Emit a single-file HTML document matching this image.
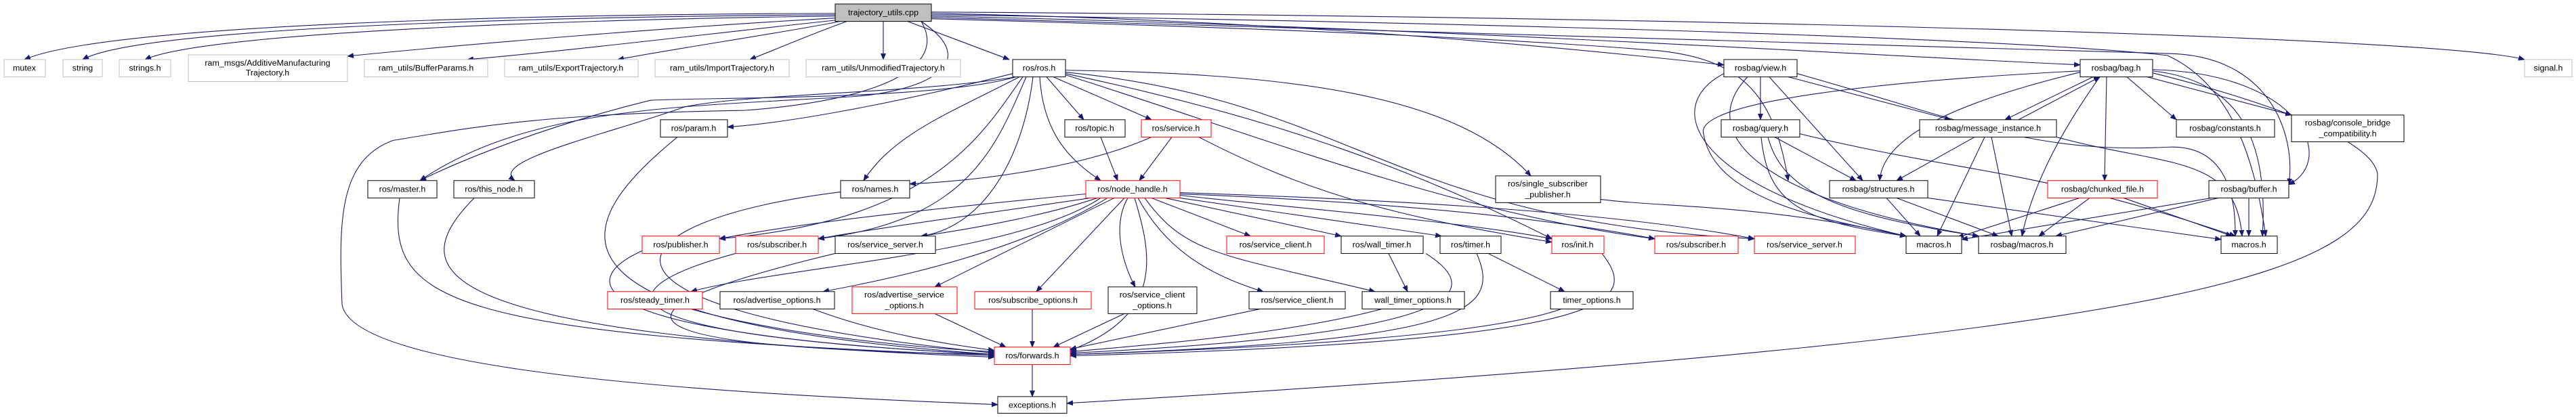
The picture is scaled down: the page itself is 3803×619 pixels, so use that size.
<!DOCTYPE html>
<html><head><meta charset="utf-8"><style>
html,body{margin:0;padding:0;background:#fff;}
svg{display:block;}
text{font-family:"Liberation Sans",sans-serif;font-size:12.5px;fill:#000;text-anchor:middle;}
.e{fill:none;stroke:#191970;stroke-width:1.1;marker-end:url(#a);}
.g{fill:#fff;stroke:#bfbfbf;stroke-width:1;}
.b{fill:#fff;stroke:#000;stroke-width:1;}
.r{fill:#fff;stroke:#ff0000;stroke-width:1;}
</style></head><body>
<svg width="3803" height="619" viewBox="0 0 3803 619" xmlns="http://www.w3.org/2000/svg">
<defs><marker id="a" markerWidth="10" markerHeight="8" refX="9" refY="4" orient="auto" markerUnits="userSpaceOnUse"><path d="M0,0 L10,4 L0,8 z" fill="#191970"/></marker></defs>
<g transform="matrix(1 0 0 0.988 0 0)">

<path class="e" d="M1233,20 C700,22 150,40 36,89"/>
<path class="e" d="M1233,22 C700,26 200,45 122,89"/>
<path class="e" d="M1233,24 C800,30 300,50 214,89"/>
<path class="e" d="M1233,27 C1000,40 700,65 513,84"/>
<path class="e" d="M1236,30 C1050,50 850,75 690,89"/>
<path class="e" d="M1240,32 C1150,50 1000,72 912,89"/>
<path class="e" d="M1250,32 C1200,50 1150,72 1107,89"/>
<path class="e" d="M1304,32 L1304,89"/>
<path class="e" d="M1340,32 L1490,89"/>
<path class="e" d="M1375,20 C1900,30 2300,70 2545,97"/>
<path class="e" d="M1375,24 C2100,40 2700,80 3071,97"/>
<path class="e" d="M1375,18 C2500,25 3600,55 3727,89"/>
<path class="e" d="M1360,32 C1460,100 1350,140 1250,145 C1000,160 780,160 620,270"/>
<path class="e" d="M1375,28 C1800,40 2200,55 2450,76 C2580,90 2620,150 2640,270"/>
<path class="e" d="M1375,26 C2100,50 2700,70 3200,80 C3350,82 3390,200 3379,276"/>
<path class="e" d="M1375,22 C2300,35 3000,60 3200,83 C3300,130 3330,250 3345,353"/>
<path class="e" d="M1360,32 C1400,100 1300,150 1100,165 C800,170 700,190 580,210 C500,240 500,330 505,455 C520,560 1100,590 1473,605"/>

<path class="e" d="M1495,110 C1300,160 1150,185 1074,190"/>
<path class="e" d="M1500,115 C1350,140 1100,140 1010,160 C900,200 720,240 760,270"/>
<path class="e" d="M1500,115 C1380,150 1050,145 960,150 C800,190 680,240 620,270"/>
<path class="e" d="M1505,115 C1400,170 1320,200 1275,270"/>
<path class="e" d="M1545,115 L1600,179"/>
<path class="e" d="M1555,115 L1700,179"/>
<path class="e" d="M1535,115 C1540,200 1580,240 1625,270"/>
<path class="e" d="M1510,115 C1450,200 1380,330 1062,357"/>
<path class="e" d="M1515,115 C1470,220 1430,330 1208,357"/>
<path class="e" d="M1525,115 C1510,240 1450,340 1360,353"/>
<path class="e" d="M1573,105 C1900,110 2150,140 2260,263"/>
<path class="e" d="M1573,110 C1900,180 2100,260 2291,357"/>
<path class="e" d="M1573,112 C1850,200 2150,320 2443,357"/>
<path class="e" d="M1573,108 C2000,150 2050,330 2590,357"/>

<path class="e" d="M1625,205 L1650,270"/>
<path class="e" d="M1730,205 L1682,270"/>
<path class="e" d="M1700,205 C1600,250 1450,270 1343,275"/>
<path class="e" d="M1770,205 C1950,300 2100,330 2291,362"/>

<path class="e" d="M1603,290 C1400,310 1200,330 1062,357"/>
<path class="e" d="M1610,296 C1450,320 1300,340 1208,357"/>
<path class="e" d="M1620,296 C1550,320 1450,340 1360,353"/>
<path class="e" d="M1625,296 C1500,380 1150,400 1020,436"/>
<path class="e" d="M1635,296 C1500,380 1300,420 1215,436"/>
<path class="e" d="M1645,296 L1380,429"/>
<path class="e" d="M1660,296 L1530,436"/>
<path class="e" d="M1665,296 C1640,340 1660,400 1676,429"/>
<path class="e" d="M1680,296 C1720,370 1780,410 1865,436"/>
<path class="e" d="M1690,296 C1750,380 1800,380 2030,436"/>
<path class="e" d="M1700,296 L1846,353"/>
<path class="e" d="M1720,296 L1980,353"/>
<path class="e" d="M1742,296 L2128,353"/>
<path class="e" d="M1742,292 C1900,310 2150,330 2291,357"/>
<path class="e" d="M1742,290 C2000,300 2250,320 2443,357"/>
<path class="e" d="M1742,288 C2100,300 2400,320 2590,357"/>
<path class="e" d="M1675,296 C1700,380 1720,470 1580,524"/>

<path class="e" d="M1000,205 C850,330 750,480 1468,530"/>
<path class="e" d="M590,296 C570,450 650,500 1468,532"/>
<path class="e" d="M700,296 C600,400 600,500 1468,534"/>
<path class="e" d="M1241,287 C900,330 800,460 1468,528"/>
<path class="e" d="M948,375 C850,420 850,500 1468,530"/>
<path class="e" d="M1086,379 C900,430 850,500 1468,530"/>
<path class="e" d="M1233,379 C900,460 850,520 1468,530"/>
<path class="e" d="M1020,462 C1150,500 1350,520 1468,526"/>
<path class="e" d="M1200,462 C1300,500 1400,515 1468,524"/>
<path class="e" d="M1380,469 L1485,519"/>
<path class="e" d="M1524,462 L1524,519"/>
<path class="e" d="M1660,469 L1555,519"/>
<path class="e" d="M1860,462 L1580,522"/>
<path class="e" d="M2040,462 C1900,500 1700,515 1580,526"/>
<path class="e" d="M2105,379 C2200,440 2150,500 1580,528"/>
<path class="e" d="M2180,379 C2220,470 2150,510 1580,530"/>
<path class="e" d="M2305,462 C2200,500 1900,520 1580,530"/>
<path class="e" d="M2365,379 C2420,450 2400,510 1580,532"/>
<path class="e" d="M2050,379 L2078,436"/>
<path class="e" d="M2197,379 L2310,436"/>
<path class="e" d="M1524,545 L1524,593"/>
<path class="e" d="M2363,298 C2450,310 2600,305 2814,353"/>

<path class="e" d="M2599,115 L2599,179"/>
<path class="e" d="M2612,115 L2750,270"/>
<path class="e" d="M2640,115 L2880,179"/>
<path class="e" d="M2653,110 C2900,180 3000,230 3200,220 C3300,215 3300,320 3300,353"/>
<path class="e" d="M2545,110 C2450,160 2500,280 2814,353"/>
<path class="e" d="M2580,115 C2500,200 2600,300 2921,353"/>
<path class="e" d="M2620,205 L2740,270"/>
<path class="e" d="M2600,205 C2610,300 2650,330 2814,353"/>
<path class="e" d="M2610,205 C2630,280 2700,320 2921,353"/>
<path class="e" d="M2657,200 C2900,260 3000,250 3300,353"/>
<path class="e" d="M2980,179 L3100,115"/>
<path class="e" d="M3090,115 L2960,179"/>
<path class="e" d="M2915,205 L2800,270"/>
<path class="e" d="M2930,205 L2860,353"/>
<path class="e" d="M2940,205 L2970,353"/>
<path class="e" d="M3036,205 C3200,250 3300,230 3310,353"/>
<path class="e" d="M3071,108 C2900,150 2780,200 2775,270"/>
<path class="e" d="M3110,115 L3107,270"/>
<path class="e" d="M3140,115 L3213,179"/>
<path class="e" d="M3170,115 L3383,172"/>
<path class="e" d="M3178,104 C3400,110 3450,240 3379,276"/>
<path class="e" d="M3178,106 C3300,120 3350,200 3340,353"/>
<path class="e" d="M3178,109 C3300,140 3500,200 3510,260 C3510,400 3300,500 1575,603"/>
<path class="e" d="M3071,106 C2800,120 2500,150 2515,200 C2530,300 2700,330 2814,353"/>
<path class="e" d="M3100,115 C3040,200 3000,280 2985,353"/>
<path class="e" d="M2785,296 L2835,353"/>
<path class="e" d="M2800,296 L2950,353"/>
<path class="e" d="M2846,296 L3279,358"/>
<path class="e" d="M3070,296 L2890,355"/>
<path class="e" d="M3085,296 L3010,353"/>
<path class="e" d="M3135,296 L3295,353"/>
<path class="e" d="M3265,296 L2896,358"/>
<path class="e" d="M3275,296 L3035,353"/>
<path class="e" d="M3320,296 L3320,353"/>

<rect x="1233" y="6" width="142" height="26" fill="#bfbfbf" stroke="#000"/><text x="1304" y="23">trajectory_utils.cpp</text>
<rect class="g" x="6" y="89" width="61" height="26"/><text x="36" y="106">mutex</text>
<rect class="g" x="93" y="89" width="58" height="26"/><text x="122" y="106">string</text>
<rect class="g" x="176" y="89" width="76" height="26"/><text x="214" y="106">strings.h</text>
<rect class="g" x="278" y="82" width="235" height="40"/><text x="395" y="98">ram_msgs/AdditiveManufacturing</text><text x="395" y="113">Trajectory.h</text>
<rect class="g" x="538" y="89" width="182" height="26"/><text x="629" y="106">ram_utils/BufferParams.h</text>
<rect class="g" x="745" y="89" width="197" height="26"/><text x="843" y="106">ram_utils/ExportTrajectory.h</text>
<rect class="g" x="967" y="89" width="198" height="26"/><text x="1066" y="106">ram_utils/ImportTrajectory.h</text>
<rect class="g" x="1190" y="89" width="228" height="26"/><text x="1304" y="106">ram_utils/UnmodifiedTrajectory.h</text>
<rect class="b" x="1495" y="89" width="78" height="26"/><text x="1534" y="106">ros/ros.h</text>
<rect class="b" x="975" y="179" width="99" height="26"/><text x="1024" y="196">ros/param.h</text>
<rect class="b" x="1572" y="179" width="89" height="26"/><text x="1616" y="196">ros/topic.h</text>
<rect class="r" x="1685" y="179" width="103" height="26"/><text x="1736" y="196">ros/service.h</text>
<rect class="b" x="543" y="270" width="102" height="26"/><text x="594" y="287">ros/master.h</text>
<rect class="b" x="670" y="270" width="119" height="26"/><text x="729" y="287">ros/this_node.h</text>
<rect class="b" x="1241" y="270" width="102" height="26"/><text x="1292" y="287">ros/names.h</text>
<rect class="r" x="1603" y="270" width="139" height="26"/><text x="1672" y="287">ros/node_handle.h</text>
<rect class="b" x="2208" y="263" width="155" height="40"/><text x="2285" y="279">ros/single_subscriber</text><text x="2285" y="295">_publisher.h</text>
<rect class="r" x="948" y="353" width="114" height="26"/><text x="1005" y="370">ros/publisher.h</text>
<rect class="r" x="1086" y="353" width="122" height="26"/><text x="1147" y="370">ros/subscriber.h</text>
<rect class="b" x="1233" y="353" width="148" height="26"/><text x="1307" y="370">ros/service_server.h</text>
<rect class="r" x="1811" y="353" width="144" height="26"/><text x="1883" y="370">ros/service_client.h</text>
<rect class="b" x="1980" y="353" width="121" height="26"/><text x="2040" y="370">ros/wall_timer.h</text>
<rect class="b" x="2126" y="353" width="90" height="26"/><text x="2171" y="370">ros/timer.h</text>
<rect class="r" x="2291" y="353" width="77" height="26"/><text x="2329" y="370">ros/init.h</text>
<rect class="r" x="2443" y="353" width="123" height="26"/><text x="2504" y="370">ros/subscriber.h</text>
<rect class="r" x="2590" y="353" width="149" height="26"/><text x="2664" y="370">ros/service_server.h</text>
<rect class="r" x="897" y="436" width="140" height="26"/><text x="967" y="453">ros/steady_timer.h</text>
<rect class="b" x="1063" y="436" width="169" height="26"/><text x="1147" y="453">ros/advertise_options.h</text>
<rect class="r" x="1258" y="429" width="155" height="40"/><text x="1335" y="445">ros/advertise_service</text><text x="1335" y="461">_options.h</text>
<rect class="r" x="1439" y="436" width="172" height="26"/><text x="1525" y="453">ros/subscribe_options.h</text>
<rect class="b" x="1636" y="429" width="131" height="40"/><text x="1701" y="445">ros/service_client</text><text x="1701" y="461">_options.h</text>
<rect class="b" x="1844" y="436" width="142" height="26"/><text x="1915" y="453">ros/service_client.h</text>
<rect class="b" x="2011" y="436" width="151" height="26"/><text x="2086" y="453">wall_timer_options.h</text>
<rect class="b" x="2289" y="436" width="122" height="26"/><text x="2350" y="453">timer_options.h</text>
<rect class="r" x="1468" y="519" width="112" height="26"/><text x="1524" y="536">ros/forwards.h</text>
<rect class="b" x="1473" y="593" width="102" height="25"/><text x="1524" y="610">exceptions.h</text>
<rect class="b" x="2545" y="89" width="108" height="26"/><text x="2599" y="106">rosbag/view.h</text>
<rect class="b" x="3071" y="89" width="107" height="26"/><text x="3124" y="106">rosbag/bag.h</text>
<rect class="g" x="3727" y="89" width="70" height="26"/><text x="3762" y="106">signal.h</text>
<rect class="b" x="2541" y="179" width="116" height="26"/><text x="2599" y="196">rosbag/query.h</text>
<rect class="b" x="2834" y="179" width="202" height="26"/><text x="2935" y="196">rosbag/message_instance.h</text>
<rect class="b" x="3213" y="179" width="145" height="26"/><text x="3285" y="196">rosbag/constants.h</text>
<rect class="b" x="3383" y="172" width="166" height="40"/><text x="3466" y="188">rosbag/console_bridge</text><text x="3466" y="204">_compatibility.h</text>
<rect class="b" x="2701" y="270" width="145" height="26"/><text x="2773" y="287">rosbag/structures.h</text>
<rect class="r" x="3023" y="270" width="162" height="26"/><text x="3104" y="287">rosbag/chunked_file.h</text>
<rect class="b" x="3261" y="270" width="118" height="26"/><text x="3320" y="287">rosbag/buffer.h</text>
<rect class="b" x="2814" y="353" width="82" height="26"/><text x="2855" y="370">macros.h</text>
<rect class="b" x="2921" y="353" width="129" height="26"/><text x="2985" y="370">rosbag/macros.h</text>
<rect class="b" x="3279" y="353" width="83" height="26"/><text x="3320" y="370">macros.h</text>
</g>
</svg>
</body></html>
